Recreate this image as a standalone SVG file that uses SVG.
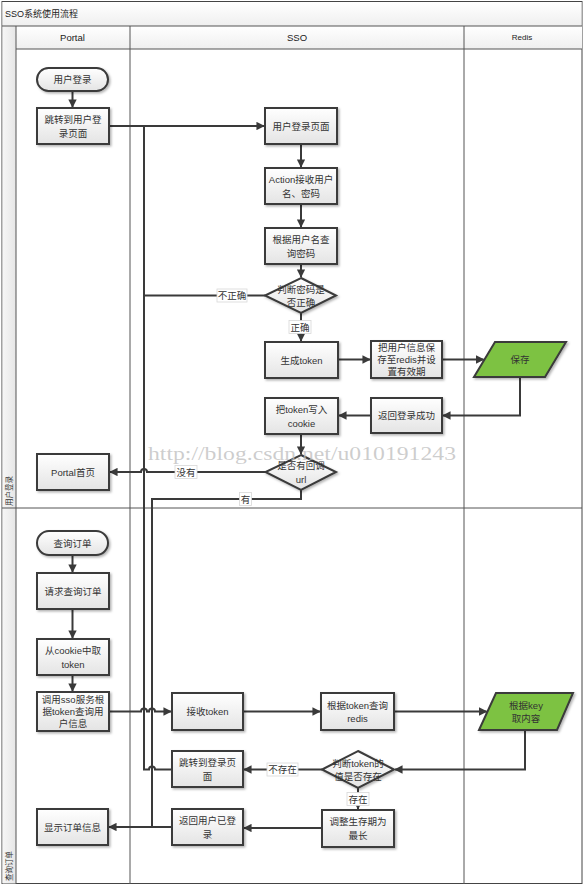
<svg xmlns="http://www.w3.org/2000/svg" width="585" height="887" viewBox="0 0 585 887">
<defs>
<linearGradient id="g" x1="0" y1="0" x2="0" y2="1"><stop offset="0" stop-color="#ffffff"/><stop offset="1" stop-color="#e4e4e4"/></linearGradient>
<linearGradient id="hg" x1="0" y1="0" x2="0" y2="1"><stop offset="0" stop-color="#ffffff"/><stop offset="1" stop-color="#efefef"/></linearGradient>
<linearGradient id="sg" x1="0" y1="0" x2="1" y2="0"><stop offset="0" stop-color="#f6f6f6"/><stop offset="1" stop-color="#e6e6e6"/></linearGradient>
<filter id="sh" x="-10%" y="-10%" width="130%" height="140%"><feDropShadow dx="1.5" dy="1.5" stdDeviation="1" flood-color="#000" flood-opacity="0.3"/></filter>
<marker id="ar" viewBox="0 0 10 10" refX="9" refY="5" markerWidth="4.2" markerHeight="4.2" orient="auto" markerUnits="strokeWidth"><path d="M0,0 L10,5 L0,10 z" fill="#3a3a3a"/></marker>
</defs>
<style>
.frame{fill:none;stroke:#555;stroke-width:1}
.box{fill:url(#g);stroke:#3a3a3a;stroke-width:2;filter:url(#sh)}
.grn{fill:#7dc242;stroke:#3a3a3a;stroke-width:2;filter:url(#sh)}
.t{font-family:"Liberation Sans","Noto Sans CJK SC",sans-serif;font-size:9.5px;fill:#333;text-anchor:middle;dominant-baseline:central}
.h{font-family:"Liberation Sans","Noto Sans CJK SC",sans-serif;font-size:9.5px;fill:#222;text-anchor:middle;dominant-baseline:central}
.c{fill:none;stroke:#3a3a3a;stroke-width:2}
.ca{fill:none;stroke:#3a3a3a;stroke-width:2;marker-end:url(#ar)}
.lb{fill:#fff;stroke:#d8d8d8;stroke-width:0.8}
</style>

<g id="frame">
<rect x="2" y="1.5" width="580" height="882" fill="#fff" stroke="#444" stroke-width="1"/>
<rect x="2.5" y="2" width="579" height="24" fill="url(#hg)"/>
<rect x="16" y="26" width="566" height="23" fill="url(#hg)"/>
<rect x="2.5" y="26" width="13.5" height="857.5" fill="url(#sg)"/>
<line class="frame" x1="2" y1="26" x2="582" y2="26"/>
<line class="frame" x1="16" y1="49" x2="582" y2="49"/>
<line class="frame" x1="16" y1="26" x2="16" y2="884"/>
<line class="frame" x1="130" y1="26" x2="130" y2="884"/>
<line class="frame" x1="464" y1="26" x2="464" y2="884"/>
<line class="frame" x1="2" y1="508" x2="582" y2="508"/>
<text x="5" y="14" font-family="Liberation Sans,Noto Sans CJK SC,sans-serif" font-size="9" fill="#222" dominant-baseline="central">SSO系统使用流程</text>
<text class="h" x="72.5" y="37.5">Portal</text>
<text class="h" x="297" y="37.5">SSO</text>
<text class="h" x="522" y="37.5" style="font-size:8px">Redis</text>
<text class="t" transform="translate(9,491) rotate(-90)" style="font-size:7.5px">用户登录</text>
<text class="t" transform="translate(9,866) rotate(-90)" style="font-size:7.5px">查询订单</text>
</g>

<g id="connectors">
<path class="ca" d="M72.5,91 V107"/>
<path class="ca" d="M109,126 H264"/>
<path class="c" d="M265,295.5 H144 V126"/>
<path class="c" d="M172,769.5 H155 a3,3 0 0 0 -6,0 H144 V126"/>
<path class="ca" d="M301,144 V167"/>
<path class="ca" d="M301,204 V227"/>
<path class="ca" d="M301,264 V277"/>
<path class="ca" d="M301,313 V341"/>
<path class="ca" d="M338,359.5 H370"/>
<path class="ca" d="M442,359.5 H483.5"/>
<path class="ca" d="M520,377 V415.5 H443"/>
<path class="ca" d="M371,415.5 H339"/>
<path class="ca" d="M301,434 V454"/>
<path class="ca" d="M265.5,472 H147 a3,3 0 0 0 -6,0 H110"/>
<path class="ca" d="M301,490 V499 H152 V827 H109"/>
<path class="ca" d="M72.5,555 V572"/>
<path class="ca" d="M72.5,609 V638"/>
<path class="ca" d="M72.5,675 V691"/>
<path class="ca" d="M109,711.5 H141 a3,3 0 0 1 6,0 H149 a3,3 0 0 1 6,0 H171"/>
<path class="ca" d="M243,711.5 H320"/>
<path class="ca" d="M394,711.5 H486.5"/>
<path class="ca" d="M525,730 V769.5 H395"/>
<path class="ca" d="M322,769.5 H244"/>
<path class="ca" d="M358,788 V809"/>
<path class="ca" d="M322,828 H244"/>
<path class="c" d="M172,827 H152"/>
<rect class="lb" x="217" y="289" width="30" height="13"/>
<text class="t" x="232" y="295.5">不正确</text>
<rect class="lb" x="289" y="320.5" width="22" height="13"/>
<text class="t" x="300" y="327">正确</text>
<rect class="lb" x="175" y="465.5" width="22" height="13"/>
<text class="t" x="186" y="472">没有</text>
<rect class="lb" x="239.5" y="492.5" width="12" height="13"/>
<text class="t" x="245.5" y="499">有</text>
<rect class="lb" x="267" y="763" width="31" height="13"/>
<text class="t" x="282.5" y="769.5">不存在</text>
<rect class="lb" x="347" y="792.5" width="22" height="13"/>
<text class="t" x="358" y="799">存在</text>
</g>

<g id="n-login-start"><rect class="box" x="37" y="68" width="71" height="23" rx="11.5"/><text class="t" x="72.5" y="79.5">用户登录</text></g>
<g id="n-goto-login"><rect class="box" x="37" y="108" width="72" height="36"/><text class="t" x="73" y="119.5">跳转到用户登</text><text class="t" x="73" y="133">录页面</text></g>
<g id="n-login-page"><rect class="box" x="265" y="108" width="72" height="36"/><text class="t" x="301" y="126">用户登录页面</text></g>
<g id="n-action"><rect class="box" x="265" y="168" width="72" height="36"/><text class="t" x="301" y="179.5">Action接收用户</text><text class="t" x="301" y="193">名、密码</text></g>
<g id="n-query-pwd"><rect class="box" x="265" y="228" width="72" height="36"/><text class="t" x="301" y="239.5">根据用户名查</text><text class="t" x="301" y="253">询密码</text></g>
<g id="n-check-pwd"><polygon class="box" points="301,278 336,295.5 301,313 265,295.5"/><text class="t" x="301" y="289">判断密码是</text><text class="t" x="301" y="302.5">否正确</text></g>
<g id="n-gen-token"><rect class="box" x="265" y="342" width="73" height="36"/><text class="t" x="301.5" y="360">生成token</text></g>
<g id="n-save-info"><rect class="box" x="371" y="341" width="71" height="37"/><text class="t" x="406.5" y="347.5">把用户信息保</text><text class="t" x="406.5" y="359.5">存至redis并设</text><text class="t" x="406.5" y="371.5">置有效期</text></g>
<g id="n-save"><polygon class="grn" points="495,342 566,342 545,377 474,377"/><text class="t" x="520" y="359.5">保存</text></g>
<g id="n-login-ok"><rect class="box" x="371" y="398" width="71" height="35"/><text class="t" x="406.5" y="415.5">返回登录成功</text></g>
<g id="n-write-cookie"><rect class="box" x="265" y="398" width="73" height="36"/><text class="t" x="301.5" y="409.5">把token写入</text><text class="t" x="301.5" y="423">cookie</text></g>
<g id="n-callback"><polygon class="box" points="301,455 336,472 301,490 265.5,472"/><text class="t" x="301" y="465">是否有回调</text><text class="t" x="301" y="479">url</text></g>
<g id="n-portal-home"><rect class="box" x="37" y="454" width="72" height="36"/><text class="t" x="73" y="472">Portal首页</text></g>

<g id="n-order-start"><rect class="box" x="37" y="531" width="71" height="24" rx="12"/><text class="t" x="72.5" y="543">查询订单</text></g>
<g id="n-req-order"><rect class="box" x="37" y="573" width="72" height="36"/><text class="t" x="73" y="591">请求查询订单</text></g>
<g id="n-get-cookie"><rect class="box" x="37" y="639" width="72" height="36"/><text class="t" x="73" y="650.5">从cookie中取</text><text class="t" x="73" y="664">token</text></g>
<g id="n-call-sso"><rect class="box" x="37" y="692" width="72" height="39"/><text class="t" x="73" y="699.5">调用sso服务根</text><text class="t" x="73" y="711.5">据token查询用</text><text class="t" x="73" y="723.5">户信息</text></g>
<g id="n-recv-token"><rect class="box" x="172" y="693" width="71" height="37"/><text class="t" x="207.5" y="711.5">接收token</text></g>
<g id="n-query-redis"><rect class="box" x="321" y="693" width="73" height="37"/><text class="t" x="357.5" y="705">根据token查询</text><text class="t" x="357.5" y="718.5">redis</text></g>
<g id="n-get-by-key"><polygon class="grn" points="496,693 573,693 557,730 479,730"/><text class="t" x="526" y="705">根据key</text><text class="t" x="526" y="718.5">取内容</text></g>
<g id="n-check-token"><polygon class="box" points="358,751 394,769.5 358,788 322,769.5"/><text class="t" x="358" y="763">判断token的</text><text class="t" x="358" y="776.5">值是否存在</text></g>
<g id="n-goto-login2"><rect class="box" x="172" y="751" width="71" height="36"/><text class="t" x="207.5" y="762.5">跳转到登录页</text><text class="t" x="207.5" y="776">面</text></g>
<g id="n-extend"><rect class="box" x="322" y="810" width="72" height="37"/><text class="t" x="358" y="821.5">调整生存期为</text><text class="t" x="358" y="835">最长</text></g>
<g id="n-logged-in"><rect class="box" x="172" y="809" width="71" height="36"/><text class="t" x="207.5" y="820.5">返回用户已登</text><text class="t" x="207.5" y="834">录</text></g>
<g id="n-show-order"><rect class="box" x="37" y="809" width="71" height="36"/><text class="t" x="72.5" y="827">显示订单信息</text></g>

<text x="148" y="460" font-family="Liberation Serif,serif" font-size="18" fill="#bdbdbd" fill-opacity="0.75" textLength="308" lengthAdjust="spacingAndGlyphs">http://blog.csdn.net/u010191243</text>
</svg>
